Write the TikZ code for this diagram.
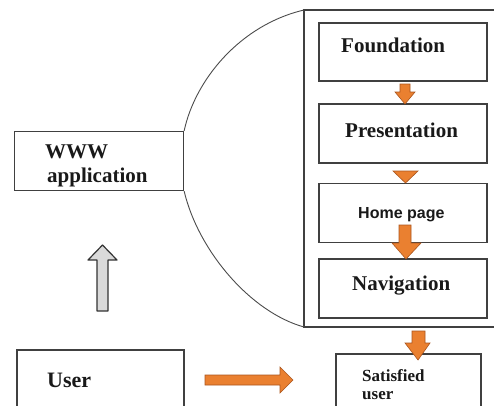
\documentclass[tikz,border=0pt]{standalone}
\usepackage{fontspec}
\setmainfont{Liberation Serif}
\newfontfamily\arialfont{Liberation Sans}
\definecolor{arroworange}{RGB}{234,128,48}
\definecolor{arrowedge}{RGB}{170,85,30}
\begin{document}
\begin{tikzpicture}[x=1pt,y=-1pt,
  box/.style={draw=black!75, line width=1.3pt, inner sep=0pt},
  txt/.style={inner sep=0pt, anchor=base west, font=\bfseries\fontsize{20}{22}\selectfont, text=black!90},
  orangearrow/.style={draw=arrowedge, line width=0.6pt, fill=arroworange},
  grayarrow/.style={draw=black!80, line width=1.2pt, fill=black!15},
  frame/.style={draw=black!75, line width=1.2pt}]
\useasboundingbox (0,0) rectangle (494,405);
\fill[white] (0,0) rectangle (494,405);
% container
\draw[frame] (494,10) -- (304,10) -- (304,327) -- (494,327);
% boxes
\node[box, minimum width=169pt, minimum height=59pt] (www) at (99,161) {};
\node[box, minimum width=168pt, minimum height=58pt] (found) at (403,52) {};
\node[box, minimum width=168pt, minimum height=59pt] (pres) at (403,133.5) {};
\node[box, minimum width=168pt, minimum height=59pt] (home) at (403,213) {};
\node[box, minimum width=168pt, minimum height=59pt] (nav) at (403,288.5) {};
\node[box, minimum width=145pt, minimum height=60pt] (sat) at (408.5,384) {};
\node[box, minimum width=167pt, minimum height=64pt] (user) at (100.5,382) {};
% curves
\draw[black!70, line width=0.9pt] (304,10) .. controls (240,25) and (195,80) .. (www.north east);
\draw[black!70, line width=0.9pt] (www.south east) .. controls (198,250) and (250,312) .. (304,327);
% texts
\node[txt, font=\bfseries\fontsize{21}{22}\selectfont] (tfound) at (341,52) {Foundation};
\node[txt, font=\bfseries\fontsize{21}{22}\selectfont] (tpres) at (345,137) {Presentation};
\node[txt, font=\arialfont\bfseries\fontsize{16}{18}\selectfont] (thome) at (358,218) {Home page};
\node[txt, font=\bfseries\fontsize{21}{22}\selectfont] (tnav) at (352,290) {Navigation};
\node[txt, font=\bfseries\fontsize{21}{22}\selectfont] (tw) at (45,158) {WWW};
\node[txt, font=\bfseries\fontsize{21}{22}\selectfont] (tapp) at (47,182) {application};
\node[txt, font=\bfseries\fontsize{22}{24}\selectfont] (tuser) at (47,387) {User};
\node[txt, font=\bfseries\fontsize{17}{18}\selectfont] (tsat) at (362,381) {Satisfied};
\node[txt, font=\bfseries\fontsize{17}{18}\selectfont] (tsu) at (362,399) {user};
% orange arrows
\draw[orangearrow] (400,84) -- (410,84) -- (410,92) -- (415,92) -- (405,104) -- (395,92) -- (400,92) -- cycle;
\draw[orangearrow] (393,171) -- (418,171) -- (405.5,183) -- cycle;
\draw[orangearrow] (399,225) -- (411,225) -- (411,243) -- (421,243) -- (406,259) -- (392,243) -- (399,243) -- cycle;
\draw[orangearrow] (412,331) -- (425,331) -- (425,343) -- (430,343) -- (418,360) -- (405,343) -- (412,343) -- cycle;
\draw[orangearrow] (205,375) -- (280,375) -- (280,367) -- (293,380) -- (280,393) -- (280,385) -- (205,385) -- cycle;
% gray arrow
\draw[grayarrow, line join=round] (97,311) -- (108,311) -- (108,260) -- (117,260) -- (102.5,245) -- (88,260) -- (97,260) -- cycle;
\end{tikzpicture}
\end{document}
